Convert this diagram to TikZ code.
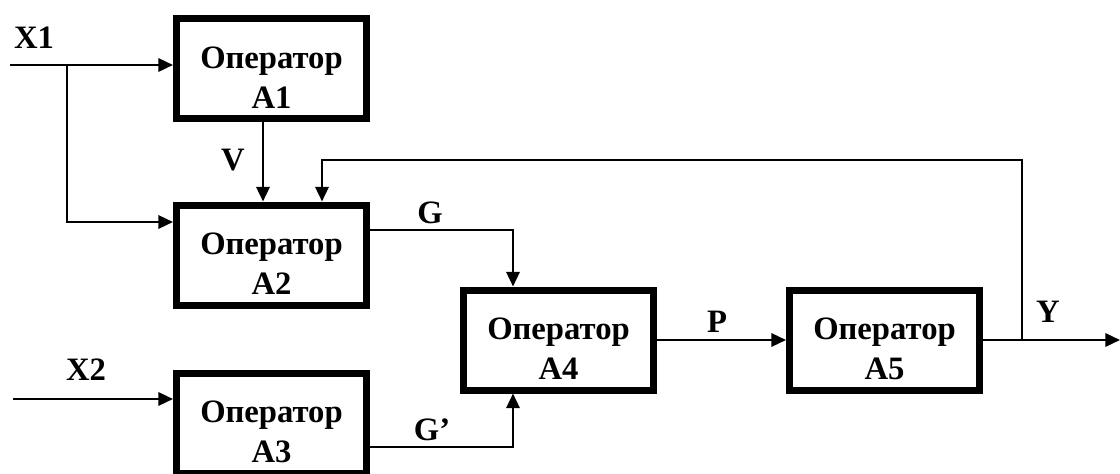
\documentclass[tikz,border=0pt]{standalone}
\usepackage{fontspec}
\setmainfont{Liberation Serif}
\usetikzlibrary{arrows.meta,calc}
\begin{document}
\begin{tikzpicture}[x=0.75pt,y=-0.75pt,
  opbox/.style={draw,line width=5.25pt,minimum width=142.5pt,minimum height=75pt,inner sep=0pt},
  optext/.style={align=center,inner sep=0pt,font=\fontsize{24.5}{30}\selectfont\bfseries},
  conn/.style={line width=1.8pt,-{Triangle[length=11pt,width=10pt]}},
  lbl/.style={font=\fontsize{24.5}{28}\selectfont\bfseries,inner sep=0pt}]
\useasboundingbox (0,0) rectangle (1120,474);
\fill[white] (0,0) rectangle (1120,474);

% operator blocks
\node[opbox] (a1) at (271.5,68.5) {};
\node[opbox] (a2) at (271.5,255) {};
\node[opbox] (a3) at (271.5,423) {};
\node[opbox] (a4) at (558.5,340) {};
\node[opbox] (a5) at (884.5,340) {};

% block captions, set slightly below the block centres
\node[optext] (a1t) at ($(a1)+(0,9)$) {Оператор\\A1};
\node[optext] (a2t) at ($(a2)+(0,9)$) {Оператор\\A2};
\node[optext] (a3t) at ($(a3)+(0,9)$) {Оператор\\A3};
\node[optext] (a4t) at ($(a4)+(0,9)$) {Оператор\\A4};
\node[optext] (a5t) at ($(a5)+(0,9)$) {Оператор\\A5};

% free ends and bends
\coordinate (x1in) at (10,65);
\coordinate (x1br) at (67,65);
\coordinate (x1low) at (67,222);
\coordinate (x2in) at (13,399);
\coordinate (gbend) at (513,230);
\coordinate (gpbend) at (513,447);
\coordinate (ytap) at (1022,340);
\coordinate (fbtop) at (1022,160);
\coordinate (fbleft) at (322,160);
\coordinate (yout) at (1120,340);

% input X1 and its branch to A2
\draw[conn] (x1in) -- (x1in -| a1.west);
\draw[conn] (x1br) -- (x1low) -- (x1low -| a2.west);
% V from A1 to A2
\draw[conn] ($(a1.south)+(-8.5,0)$) -- ($(a2.north)+(-8.5,0)$);
% feedback from Y back to A2
\draw[conn] (ytap) -- (fbtop) -- (fbleft) -- (fbleft |- a2.north);
% G and G' into A4
\draw[conn] (gbend -| a2.east) -- (gbend) -- (gbend |- a4.north);
\draw[conn] (gpbend -| a3.east) -- (gpbend) -- (gpbend |- a4.south);
% input X2
\draw[conn] (x2in) -- (x2in -| a3.west);
% P and Y
\draw[conn] (a4.east) -- (a5.west);
\draw[conn] (a5.east) -- (yout);

% signal labels
\node[lbl] (lx1) at (34,38) {X1};
\node[lbl] (lv) at (233,160) {V};
\node[lbl] (lg) at (430,213) {G};
\node[lbl] (lgp) at (432,430) {G’};
\node[lbl] (lp) at (717,322) {P};
\node[lbl] (lx2) at (86,370) {X2};
\node[lbl] (ly) at (1048,312) {Y};
\end{tikzpicture}
\end{document}
